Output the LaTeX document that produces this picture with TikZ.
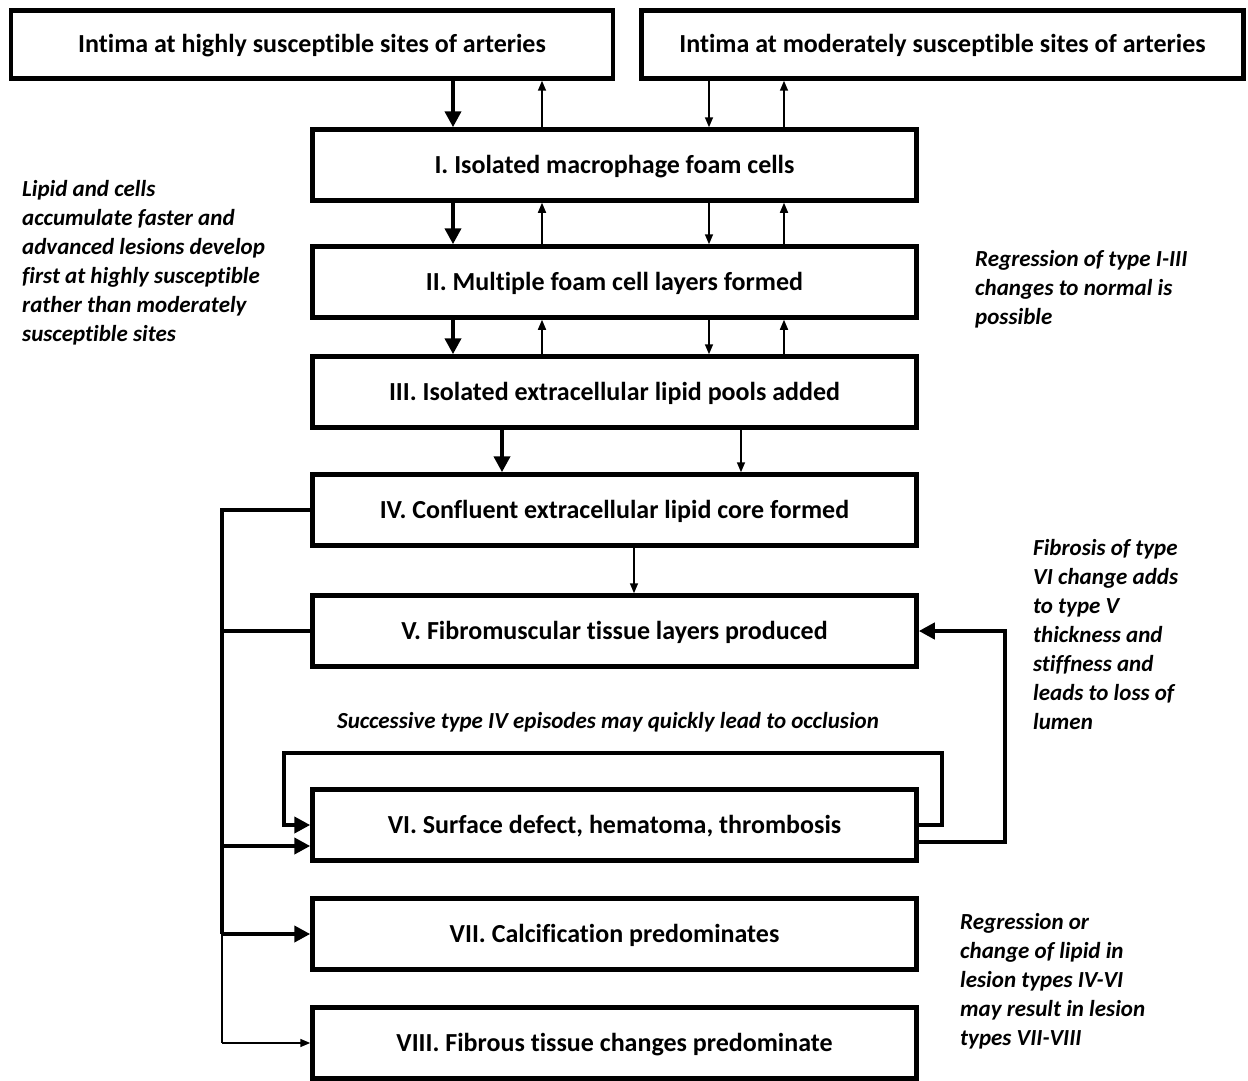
\documentclass[tikz,border=0pt]{standalone}
\usepackage{fontspec}
\setmainfont{Carlito}[Ligatures=NoCommon]
\usetikzlibrary{arrows.meta}
\begin{document}
\begin{tikzpicture}[x=1pt,y=-1pt,
  stagebox/.style={draw,line width=4.5pt,minimum width=604pt,minimum height=71pt,inner sep=0pt,
    text height=21.5pt,text depth=4.5pt,
    font=\fontsize{26}{30}\selectfont\bfseries},
  topbox/.style={stagebox,minimum width=602pt,minimum height=68pt},
  note/.style={align=left,inner sep=0pt,font=\fontsize{23}{29}\selectfont\bfseries\itshape},
  thk/.style={line width=4pt,-{Triangle[length=16pt,width=16pt]}},
  thn/.style={line width=1.6pt,-{Triangle[length=10pt,width=8pt]}},
  thkline/.style={line width=4pt},
  thnline/.style={line width=1.6pt}]
\useasboundingbox (0,0) rectangle (1248,1081);
% boxes
\node[topbox] (T1) at (312,44.5) {Intima at highly susceptible sites of arteries};
\node[topbox] (T2) at (942.5,44.5) {Intima at moderately susceptible sites of arteries};
\node[stagebox] (B1) at (614.5,165) {I. Isolated macrophage foam cells};
\node[stagebox] (B2) at (614.5,282) {II. Multiple foam cell layers formed};
\node[stagebox] (B3) at (614.5,392) {III. Isolated extracellular lipid pools added};
\node[stagebox] (B4) at (614.5,510) {IV. Confluent extracellular lipid core formed};
\node[stagebox] (B5) at (614.5,631) {V. Fibromuscular tissue layers produced};
\node[stagebox] (B6) at (614.5,825) {VI. Surface defect, hematoma, thrombosis};
\node[stagebox] (B7) at (614.5,934) {VII. Calcification predominates};
\node[stagebox] (B8) at (614.5,1043) {VIII. Fibrous tissue changes predominate};
% column coordinates
\coordinate (cA) at (453,0);
\coordinate (cB) at (542,0);
\coordinate (cC) at (709,0);
\coordinate (cD) at (784,0);
\coordinate (cE) at (502,0);
\coordinate (cF) at (741,0);
\coordinate (cG) at (634,0);
% top to I
\draw[thk] (T1.south -| cA) -- (B1.north -| cA);
\draw[thn] (B1.north -| cB) -- (T1.south -| cB);
\draw[thn] (T2.south -| cC) -- (B1.north -| cC);
\draw[thn] (B1.north -| cD) -- (T2.south -| cD);
% I to II
\draw[thk] (B1.south -| cA) -- (B2.north -| cA);
\draw[thn] (B2.north -| cB) -- (B1.south -| cB);
\draw[thn] (B1.south -| cC) -- (B2.north -| cC);
\draw[thn] (B2.north -| cD) -- (B1.south -| cD);
% II to III
\draw[thk] (B2.south -| cA) -- (B3.north -| cA);
\draw[thn] (B3.north -| cB) -- (B2.south -| cB);
\draw[thn] (B2.south -| cC) -- (B3.north -| cC);
\draw[thn] (B3.north -| cD) -- (B2.south -| cD);
% III to IV
\draw[thk] (B3.south -| cE) -- (B4.north -| cE);
\draw[thn] (B3.south -| cF) -- (B4.north -| cF);
% IV to V
\draw[thn] (B4.south -| cG) -- (B5.north -| cG);
% left bus
\coordinate (bus) at (222,0);
\coordinate (busTop) at (222,510);
\coordinate (busVII) at (222,934);
\coordinate (busVIII) at (222,1043);
\draw[thkline] (B4.west) -- (busTop) -- (busVII);
\draw[thkline] (B5.west) -- (B5.west -| bus);
\coordinate (inVI) at ([yshift=-21pt]B6.west);
\draw[thk] (inVI -| bus) -- (inVI);
\draw[thk] (busVII) -- (B7.west);
\draw[thnline] (busVII) -- (busVIII);
\draw[thn] (busVIII) -- (B8.west);
% VI self loop
\coordinate (loopR) at (942,753);
\coordinate (loopL) at (284,753);
\draw[thk] (B6.east) -| (loopR) -- (loopL) |- (B6.west);
% VI to V feedback
\coordinate (outVI) at ([yshift=-17pt]B6.east);
\coordinate (fbX) at (1005,0);
\draw[thk] (outVI) -| (fbX |- B5.east) -- (B5.east);
% notes
\node[note,anchor=north west] (N1) at (22,180) {Lipid and cells\\accumulate faster and\\advanced lesions develop\\first at highly susceptible\\rather than moderately\\susceptible sites};
\node[note,anchor=north west] (N2) at (975,250) {Regression of type I-III\\changes to normal is\\possible};
\node[note,anchor=north west] (N3) at (1033,539) {Fibrosis of type\\VI change adds\\to type V\\thickness and\\stiffness and\\leads to loss of\\lumen};
\node[note] (N4) at (608,722) {Successive type IV episodes may quickly lead to occlusion};
\node[note,anchor=north west] (N5) at (960,913) {Regression or\\change of lipid in\\lesion types IV-VI\\may result in lesion\\types VII-VIII};
\end{tikzpicture}
\end{document}
